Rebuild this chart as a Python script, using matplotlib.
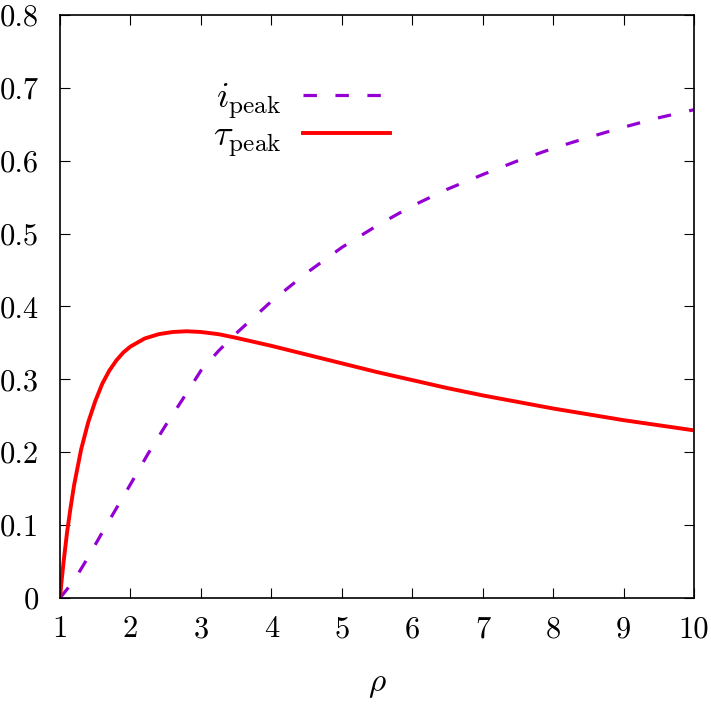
import numpy as np
import matplotlib
matplotlib.use("Agg")
import matplotlib.pyplot as plt

plt.rcParams['font.family'] = 'serif'
plt.rcParams['font.serif'] = ['cmr10']
plt.rcParams['mathtext.fontset'] = 'cm'
plt.rcParams['axes.unicode_minus'] = False

# values
rho_i = [1.0, 1.2, 1.4, 1.6, 1.8, 2.0, 2.25, 2.5, 2.75, 3.0, 3.25, 3.5, 4.0, 4.5,
         5.0, 5.5, 6.0, 6.5, 7.0, 7.5, 8.0, 8.5, 9.0, 9.5, 10.0]
i_peak = [0.0, 0.024, 0.056, 0.090, 0.123, 0.156, 0.198, 0.237, 0.274, 0.312, 0.339,
          0.363, 0.407, 0.446, 0.481, 0.511, 0.538, 0.561, 0.581, 0.600, 0.617,
          0.632, 0.646, 0.659, 0.670]

rho_t = [1.0, 1.02, 1.05, 1.1, 1.15, 1.2, 1.3, 1.4, 1.5, 1.6, 1.7, 1.8, 1.9, 2.0,
         2.2, 2.4, 2.6, 2.8, 3.0, 3.25, 3.5, 4.0, 4.5, 5.0, 5.5, 6.0, 6.5, 7.0,
         7.5, 8.0, 8.5, 9.0, 9.5, 10.0]
tau_peak = [0.0, 0.021, 0.049, 0.090, 0.124, 0.155, 0.204, 0.241, 0.270, 0.294,
            0.312, 0.326, 0.337, 0.345, 0.356, 0.362, 0.365, 0.366, 0.365, 0.362,
            0.357, 0.346, 0.334, 0.322, 0.310, 0.299, 0.288, 0.278, 0.269, 0.260,
            0.252, 0.244, 0.237, 0.230]

xticks = [1, 2, 3, 4, 5, 6, 7, 8, 9, 10]
yticks = [0, 0.1, 0.2, 0.3, 0.4, 0.5, 0.6, 0.7, 0.8]
ytick_labels = ['0', '0.1', '0.2', '0.3', '0.4', '0.5', '0.6', '0.7', '0.8']

fig = plt.figure(figsize=(7.11, 7.07), dpi=100)
ax = fig.add_axes([0.0844, 0.1542, 0.8917, 0.8246])

ax.plot(rho_i, i_peak, color='#9400D3', lw=2.3, dashes=(4.2, 5.8),
        label=r'$i_{\rm peak}$')
ax.plot(rho_t, tau_peak, color='#FF0000', lw=2.8, label=r'$\tau_{\rm peak}$')

ax.set_xlim(1, 10)
ax.set_ylim(0, 0.8)
ax.set_xticks(xticks)
ax.set_xticklabels([str(t) for t in xticks])
ax.set_yticks(yticks)
ax.set_yticklabels(ytick_labels)
ax.tick_params(direction='in', length=7, width=0.8, top=True, right=True,
               labelsize=22)
ax.tick_params(axis='x', pad=13)
ax.tick_params(axis='y', pad=15)
for s in ax.spines.values():
    s.set_linewidth(1.2)

ax.set_xlabel(r'$\rho$', fontsize=24, labelpad=20)

leg = ax.legend(loc='upper right', bbox_to_anchor=(0.52, 0.885), frameon=False,
                markerfirst=False, fontsize=26, handlelength=2.4,
                handletextpad=0.6, labelspacing=-0.03, borderaxespad=0,
                borderpad=0)

fig.savefig('out.png', dpi=100)
